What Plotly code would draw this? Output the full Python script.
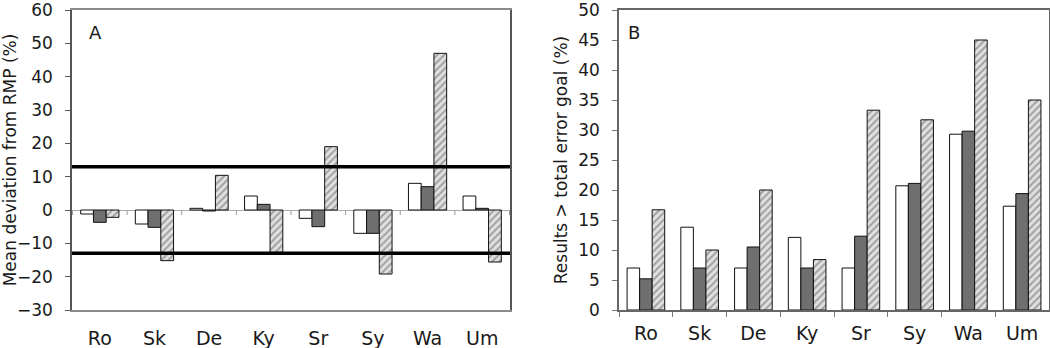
import plotly.graph_objects as go

categories = ["Ro", "Sk", "De", "Ky", "Sr", "Sy", "Wa", "Um"]

# Panel A: mean deviation from RMP (%)
dev_white = [-1.2, -4.2, 0.5, 4.2, -2.5, -7.0, 8.0, 4.2]
dev_gray = [-3.7, -5.2, -0.3, 1.7, -5.0, -7.0, 7.0, 0.5]
dev_hatched = [-2.2, -15.2, 10.4, -12.7, 19.0, -19.2, 47.0, -15.6]
limits = [13, -13]

# Panel B: results > total error goal (%)
err_white = [7.0, 13.8, 7.0, 12.1, 7.0, 20.7, 29.3, 17.3]
err_gray = [5.2, 7.0, 10.5, 7.0, 12.3, 21.1, 29.8, 19.4]
err_hatched = [16.7, 10.0, 20.0, 8.4, 33.3, 31.7, 45.0, 35.0]

FONT = "DejaVu Sans"
TXT = "#1a1a1a"
FRAME = "#8a8a8a"

def bar_set(vals_w, vals_g, vals_h, xa, ya):
    common = dict(x=categories, xaxis=xa, yaxis=ya, showlegend=False)
    return [
        go.Bar(y=vals_w, marker=dict(color="white", line=dict(color="#111", width=1)), **common),
        go.Bar(y=vals_g, marker=dict(color="#6f6f6f", line=dict(color="#111", width=1)), **common),
        go.Bar(y=vals_h, marker=dict(color="#d4d4d4", line=dict(color="#111", width=1),
                                     pattern=dict(shape="/", fgcolor="#5f5f5f", bgcolor="#e0e0e0",
                                                  size=5, solidity=0.4)), **common),
    ]

fig = go.Figure()
for t in bar_set(dev_white, dev_gray, dev_hatched, "x", "y"):
    fig.add_trace(t)
for t in bar_set(err_white, err_gray, err_hatched, "x2", "y2"):
    fig.add_trace(t)

shapes = []
for lim in limits:
    shapes.append(dict(type="line", xref="x domain", yref="y", x0=0, x1=1, y0=lim, y1=lim,
                       line=dict(color="black", width=3.5), layer="above"))
# tick marks on zero line between categories (panel A)
for i in range(len(categories) + 1):
    shapes.append(dict(type="line", xref="x", yref="y", x0=i - 0.5, x1=i - 0.5, y0=0, y1=-1.5,
                       line=dict(color="#999", width=1), layer="below"))

yfont = dict(family=FONT, size=17, color=TXT)
xfont = dict(family=FONT, size=19, color=TXT)
titlefont = dict(family=FONT, size=17, color=TXT)

fig.update_layout(
    width=1050, height=348,
    margin=dict(l=72, r=1, t=10, b=38, autoexpand=False),
    paper_bgcolor="white", plot_bgcolor="white",
    barmode="group", bargap=0.3, bargroupgap=0,
    font=dict(family=FONT, size=17, color=TXT),
    shapes=shapes,
    xaxis=dict(domain=[0, 0.4483], anchor="y", showline=True, linecolor=FRAME, linewidth=1.5,
               mirror=True, ticks="", tickfont=xfont, ticklabelstandoff=10, showgrid=False,
               automargin=False, ticklabeloverflow="allow"),
    yaxis=dict(domain=[0, 1], anchor="x", range=[-30, 60], dtick=10, showline=True,
               linecolor="#555", linewidth=1.5, mirror=True, ticks="outside", ticklen=5,
               tickcolor="#555", tickfont=yfont, ticklabelstandoff=9, showgrid=False,
               zeroline=True, zerolinecolor="#aaa", zerolinewidth=1, automargin=False,
               ticklabeloverflow="allow",
               title=dict(text="Mean deviation from RMP (%)", font=titlefont, standoff=6)),
    xaxis2=dict(domain=[0.5599, 1], anchor="y2", showline=True, linecolor="#666", linewidth=1.5,
                mirror=True, ticks="outside", ticklen=5, tickcolor="#777", tickson="boundaries",
                tickfont=xfont, ticklabelstandoff=5, showgrid=False, automargin=False,
                ticklabeloverflow="allow"),
    yaxis2=dict(domain=[0, 1], anchor="x2", range=[0, 50], dtick=5, showline=True,
                linecolor="#666", linewidth=1.5, mirror=True, ticks="outside", ticklen=5,
                tickcolor="#777", tickfont=yfont, ticklabelstandoff=9, showgrid=False,
                zeroline=False, automargin=False, ticklabeloverflow="allow",
                title=dict(text="Results > total error goal (%)", font=titlefont, standoff=6)),
    annotations=[
        dict(text="A", xref="x domain", yref="y domain", x=0.035, y=0.925, showarrow=False,
             xanchor="left", yanchor="middle", font=dict(family=FONT, size=18, color=TXT)),
        dict(text="B", xref="x2 domain", yref="y2 domain", x=0.017, y=0.925, showarrow=False,
             xanchor="left", yanchor="middle", font=dict(family=FONT, size=18, color=TXT)),
    ],
)

fig.write_html("out.html", config={"displayModeBar": False},
               post_script="document.body.style.margin='0px';")
